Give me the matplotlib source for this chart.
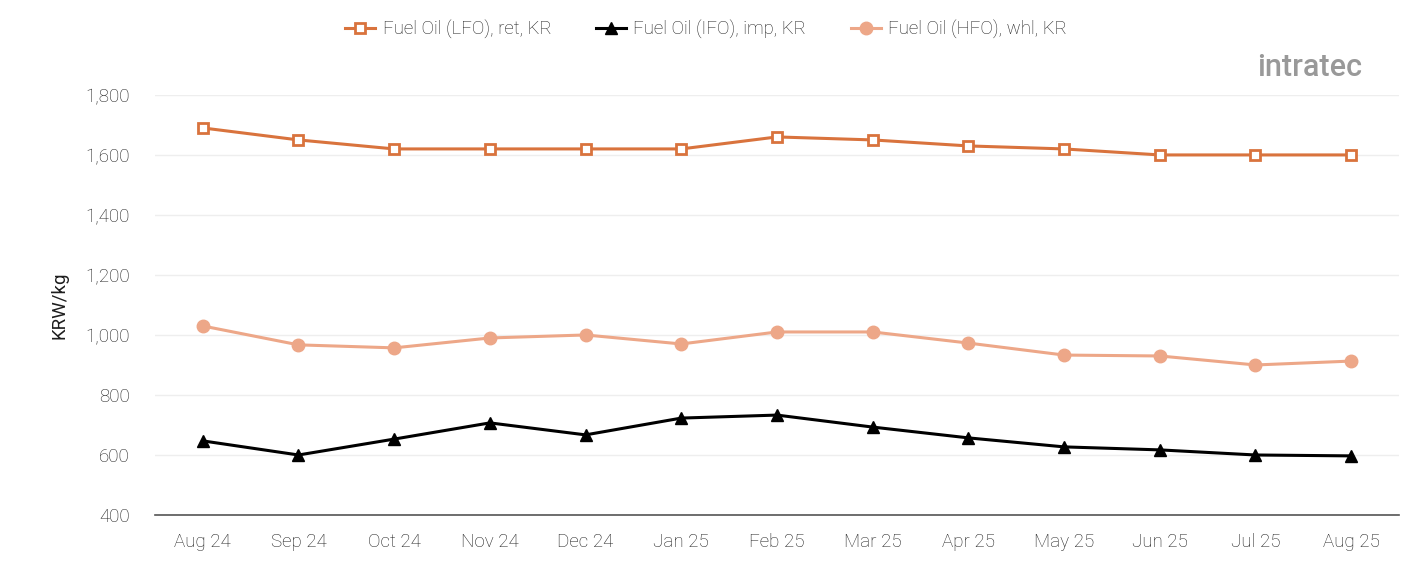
import matplotlib
matplotlib.use("Agg")
import matplotlib.pyplot as plt

plt.rcParams['font.family'] = ['Roboto', 'DejaVu Sans']
plt.rcParams['font.weight'] = 'light'

months = ["Aug 24", "Sep 24", "Oct 24", "Nov 24", "Dec 24", "Jan 25", "Feb 25",
          "Mar 25", "Apr 25", "May 25", "Jun 25", "Jul 25", "Aug 25"]
lfo = [1690, 1650, 1620, 1620, 1620, 1620, 1660, 1650, 1630, 1620, 1600, 1600, 1600]
ifo = [647, 600, 653, 707, 667, 723, 733, 693, 657, 627, 617, 600, 597]
hfo = [1030, 967, 957, 990, 1000, 970, 1010, 1010, 973, 933, 930, 900, 913]
yticks = [400, 600, 800, 1000, 1200, 1400, 1600, 1800]

c_lfo = "#D9733D"
c_hfo = "#EDA788"
c_ifo = "#000000"
c_text = "#1E1E1E"

fig = plt.figure(figsize=(14.01, 5.61), dpi=100)
ax = fig.add_axes([0.1106, 0.082, 0.888, 0.7488])
x = list(range(len(months)))

ax.plot(x, lfo, color=c_lfo, lw=2.2, marker='s', ms=7, mfc='white', mec=c_lfo, mew=2,
        label="Fuel Oil (LFO), ret, KR", zorder=3)
ax.plot(x, ifo, color=c_ifo, lw=2.2, marker='^', ms=9, mfc=c_ifo, mec=c_ifo,
        label="Fuel Oil (IFO), imp, KR", zorder=3)
ax.plot(x, hfo, color=c_hfo, lw=2.2, marker='o', ms=9, mfc=c_hfo, mec=c_hfo,
        label="Fuel Oil (HFO), whl, KR", zorder=3)

ax.set_xlim(-0.5, len(months) - 0.5)
ax.set_ylim(400, 1800)
ax.set_yticks(yticks)
ax.set_yticklabels([f"{v:,}" for v in yticks])
ax.set_xticks(x)
ax.set_xticklabels(months)
ax.tick_params(axis='both', length=0, labelsize=13.5, colors=c_text)
ax.tick_params(axis='x', pad=13)
ax.tick_params(axis='y', pad=18)
ax.grid(axis='y', color='#EEEEEE', lw=1)
ax.set_axisbelow(True)
for s in ['top', 'right', 'left']:
    ax.spines[s].set_visible(False)
ax.spines['bottom'].set_color('#555555')
ax.spines['bottom'].set_linewidth(1.2)
ax.set_ylabel("KRW/kg", fontsize=13.5, color=c_text, labelpad=12)

fig.legend(loc='upper center', bbox_to_anchor=(0.504, 0.995), ncol=3, frameon=False,
           fontsize=13.4, handlelength=1.6, columnspacing=2.4, handletextpad=0.4,
           labelcolor=c_text)

fig.text(0.935, 0.88, "intratec", fontsize=22, color='#999999', ha='center', va='center',
         fontweight='medium')

fig.savefig("out.png", dpi=100, facecolor='white')
